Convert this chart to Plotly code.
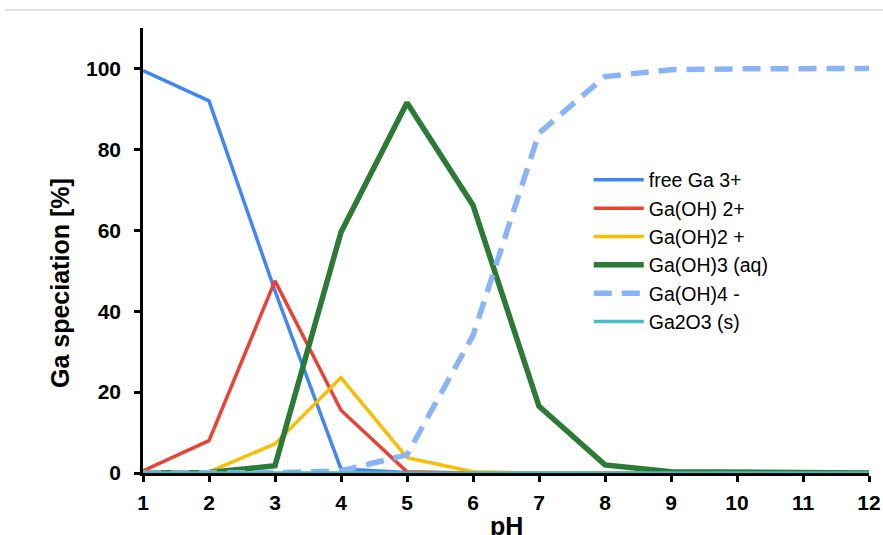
import plotly.graph_objects as go

# pH grid
ph = [1, 2, 3, 4, 5, 6, 7, 8, 9, 10, 11, 12]

# Gallium species distribution (%) versus pH
free_ga3 = [99.5, 92, 45, 1.0, 0.1, 0, 0, 0, 0, 0, 0, 0]
gaoh_2p = [0.5, 8, 47.5, 15.5, 0.3, 0, 0, 0, 0, 0, 0, 0]
gaoh2_p = [0, 0.3, 7.2, 23.6, 3.8, 0.3, 0, 0, 0, 0, 0, 0]
gaoh3_aq = [0, 0.1, 1.8, 59.5, 91.5, 66.2, 16.5, 2.0, 0.3, 0.1, 0.05, 0]
gaoh4_m = [0, 0, 0.1, 0.5, 4.5, 34, 84, 98, 99.7, 99.9, 100, 100]
ga2o3_s = [0, 0, 0, 0, 0, 0, 0, 0, 0, 0, 0, 0]

series = [
    ("free Ga 3+", free_ga3, "#4285F4", 3.5, "solid"),
    ("Ga(OH) 2+", gaoh_2p, "#EA4335", 3.5, "solid"),
    ("Ga(OH)2 +", gaoh2_p, "#FBBC04", 3.5, "solid"),
    ("Ga(OH)3 (aq)", gaoh3_aq, "#2B7A36", 5.5, "solid"),
    ("Ga(OH)4 -", gaoh4_m, "#8AB4F8", 5.5, "18px,10px"),
    ("Ga2O3 (s)", ga2o3_s, "#46BDC6", 3.5, "solid"),
]

fig = go.Figure()
for name, vals, color, width, dash in series:
    fig.add_trace(go.Scatter(
        x=ph, y=vals, name=name, mode="lines",
        line=dict(color=color, width=width, dash=dash),
        cliponaxis=False,
    ))

font_family = "Liberation Sans, Arial, sans-serif"
tick_font = dict(size=21, family=font_family, color="black", weight="bold")

fig.update_layout(
    width=883, height=535,
    margin=dict(l=143, r=14, t=28, b=62),
    paper_bgcolor="white", plot_bgcolor="white",
    font=dict(family=font_family, color="black"),
    showlegend=True,
    legend=dict(
        x=0.614, y=0.702, xanchor="left", yanchor="top",
        font=dict(size=19.5, family=font_family, color="black"),
        bgcolor="rgba(0,0,0,0)", itemwidth=50,
        tracegroupgap=0,
    ),
    xaxis=dict(
        range=[1, 12], tickmode="array", tickvals=ph,
        ticktext=[str(v) for v in ph],
        automargin=False,
        showgrid=False, zeroline=False,
        showline=True, linecolor="black", linewidth=2.5,
        ticks="outside", ticklen=6, tickwidth=2.5, tickcolor="black",
        ticklabelstandoff=3,
        tickfont=tick_font,
    ),
    yaxis=dict(
        range=[0, 110], tickmode="array", tickvals=[0, 20, 40, 60, 80, 100],
        automargin=False,
        showgrid=False, zeroline=False,
        showline=True, linecolor="black", linewidth=2.5,
        ticks="outside", ticklen=6, tickwidth=2.5, tickcolor="black",
        ticklabelstandoff=9,
        tickfont=tick_font,
    ),
    annotations=[
        # axis titles
        dict(text="<b>pH</b>", xref="paper", yref="paper", x=0.5, y=-0.118,
             xanchor="center", yanchor="middle", showarrow=False,
             font=dict(size=25, family=font_family, color="black")),
        dict(text="<b>Ga speciation [%]</b>", xref="paper", yref="paper",
             x=-0.1143, y=0.427, xanchor="center", yanchor="middle",
             textangle=-90, showarrow=False,
             font=dict(size=25, family=font_family, color="black")),
    ],
    shapes=[dict(
        type="line", xref="paper", yref="paper",
        x0=-0.19, x1=1.02, y0=1.0404, y1=1.0404,
        line=dict(color="#d9d9d9", width=1.5),
    )],
)

fig.write_html("out.html")
